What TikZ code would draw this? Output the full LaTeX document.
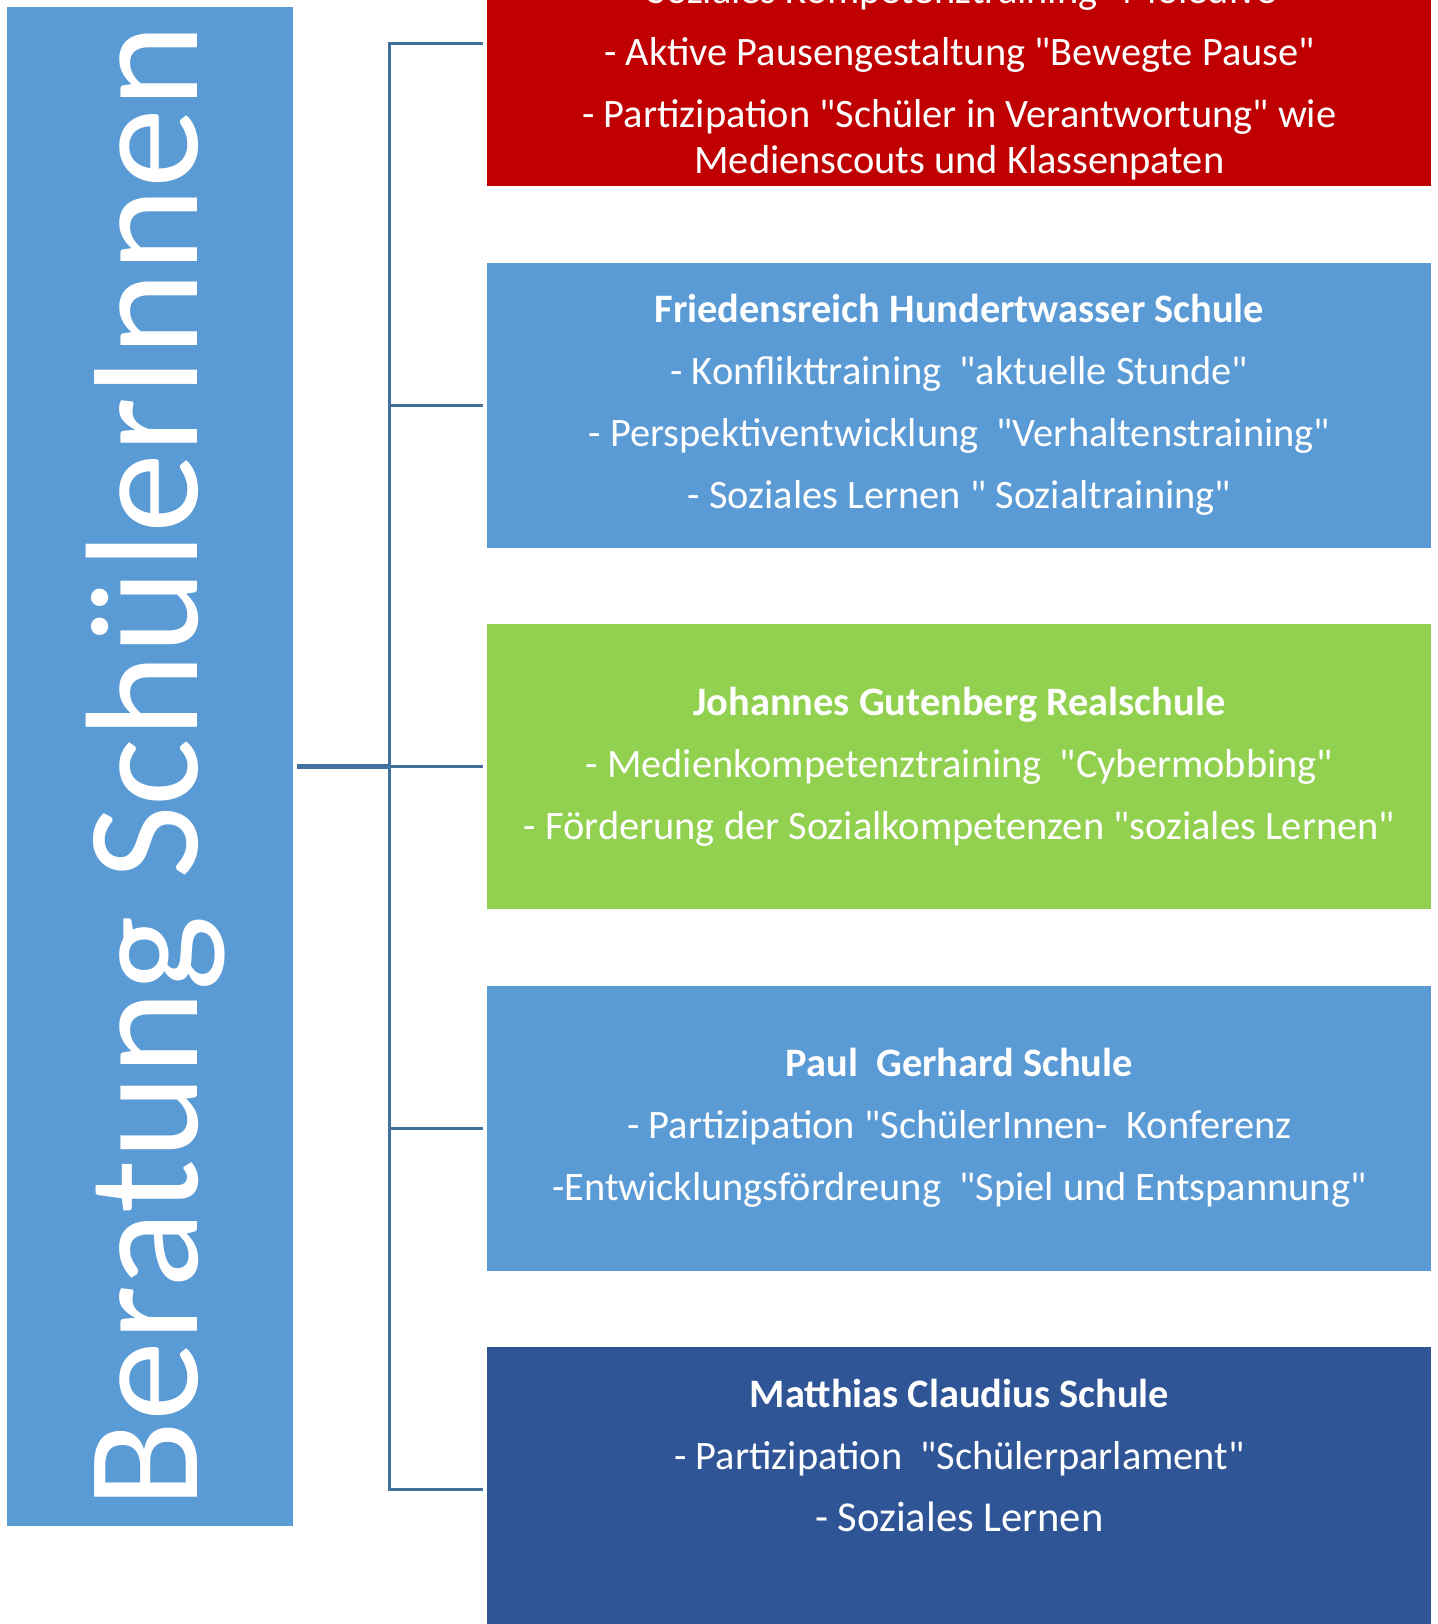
\documentclass[tikz,border=0pt]{standalone}
\usepackage{fontspec}
\setmainfont{Carlito}[Ligatures=TeXOff]
\definecolor{paneblue}{HTML}{5B9BD5}
\definecolor{panered}{HTML}{C00000}
\definecolor{panegreen}{HTML}{92D050}
\definecolor{panenavy}{HTML}{2F5597}
\definecolor{linkblue}{HTML}{41719C}
\newcommand{\emptyline}{\vphantom{Ag}}
\begin{document}
\begin{tikzpicture}[x=0.5pt,y=-0.5pt,
  schoolbox/.style={minimum width=472pt,minimum height=142.5pt,inner sep=0pt,
    anchor=west,align=center,text=white,
    font=\fontsize{20.2}{23}\selectfont},
  branch/.style={draw=linkblue,line width=1.5pt},
  trunk/.style={draw=linkblue,line width=2.5pt}]
\useasboundingbox (0,0) rectangle (1438,1624);
\clip (0,0) rectangle (1438,1624);

% title bar on the left
\node[fill=paneblue,minimum width=143pt,minimum height=759.5pt,inner sep=0pt]
  (title) at (150,766.5) {};
\node[rotate=90,anchor=base,text=white,font=\fontsize{80.2}{92}\selectfont]
  (titletext) at (197,766.5) {Beratung SchülerInnen};

% school boxes
\node[schoolbox,fill=panered] (s1) at (487,43.5) {\emptyline\\[12pt]
  - Soziales Kompetenztraining "Moledive"\\[8pt]
  - Aktive Pausengestaltung "Bewegte Pause"\\[8pt]
  - Partizipation "Schüler in Verantwortung" wie\\
  Medienscouts und Klassenpaten};
\node[schoolbox,fill=paneblue] (s2) at (487,405) {\textbf{Friedensreich Hundertwasser Schule}\\[8pt]
  - Konflikttraining \ "aktuelle Stunde"\\[8pt]
  - Perspektiventwicklung \ "Verhaltenstraining"\\[8pt]
  - Soziales Lernen " Sozialtraining"};
\node[schoolbox,fill=panegreen] (s3) at (487,766.5) {\textbf{Johannes Gutenberg Realschule}\\[8pt]
  - Medienkompetenztraining \ "Cybermobbing"\\[8pt]
  - Förderung der Sozialkompetenzen "soziales Lernen"};
\node[schoolbox,fill=paneblue] (s4) at (487,1128) {\textbf{Paul \ Gerhard Schule}\\[8pt]
  - Partizipation "SchülerInnen- \ Konferenz\\[8pt]
  -Entwicklungsfördreung \ "Spiel und Entspannung"};
\node[schoolbox,fill=panenavy] (s5) at (487,1489.5) {\textbf{Matthias Claudius Schule}\\[8pt]
  - Partizipation \ "Schülerparlament"\\[8pt]
  {\fontsize{21.3}{23}\selectfont - Soziales Lernen}\\[8pt]
  \emptyline};

% bracket connecting the title bar with the schools
\coordinate (spine) at (389,766.5);
\draw[trunk] ([xshift=2pt]title.east) -- (spine);
\draw[branch] ([xshift=-2pt]s1.west) -| (spine |- s1.west)
  -- (spine |- s5.west) -- ([xshift=-2pt]s5.west);
\foreach \s in {s2,s3,s4}
  \draw[branch] (spine |- \s.west) -- ([xshift=-2pt]\s.west);
\end{tikzpicture}
\end{document}
